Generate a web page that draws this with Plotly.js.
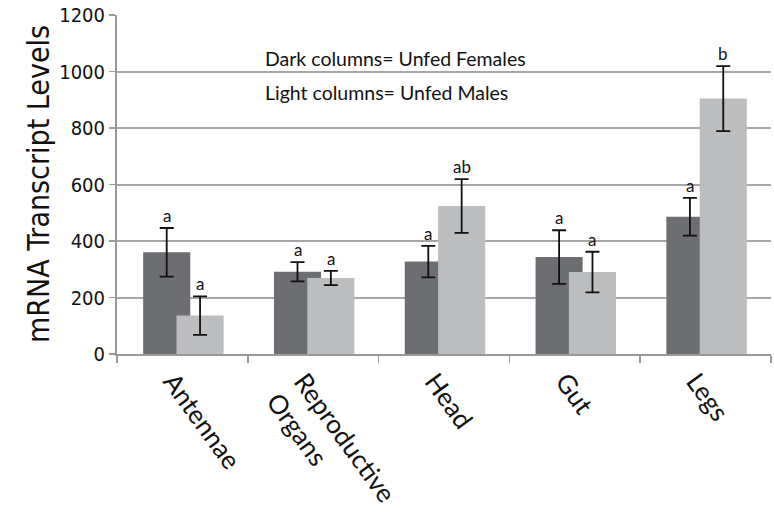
<!DOCTYPE html>
<html>
<head>
<meta charset="utf-8">
<script src="https://cdn.plot.ly/plotly-3.0.1.min.js"></script>
<style>
  html, body { margin: 0; padding: 0; background: #fff; }
  #chart { width: 774px; height: 519px; }
</style>
</head>
<body>
<div id="chart"></div>
<script>
const tissues = ['Antennae', 'Reproductive<br>Organs', 'Head', 'Gut', 'Legs']
const females = [360, 291, 327, 343, 486]
const femalesErr = [86, 34, 56, 95, 67]
const males = [136, 269, 524, 290, 904]
const malesErr = [68, 25, 95, 72, 115]
const femaleLetters = ['a', 'a', 'a', 'a', 'a']
const maleLetters = ['a', 'a', 'ab', 'a', 'b']

const narrow = '"DejaVu Sans Condensed", "Liberation Sans Narrow", sans-serif'
const body = 'Lato, "Open Sans", sans-serif'

const barW = 0.36
const darkOff = -0.30
const lightOff = -0.045

const errStyle = (arr) => ({
    type: 'data', array: arr, visible: true,
    color: '#111', thickness: 1.8, width: 7,
})

let data = [
    {
        type: 'bar', name: 'Unfed Females',
        x: tissues, y: females,
        width: barW, offset: darkOff,
        marker: { color: '#6d6e72' },
        error_y: errStyle(femalesErr),
    },
    {
        type: 'bar', name: 'Unfed Males',
        x: tissues, y: males,
        width: barW, offset: lightOff,
        marker: { color: '#bcbdbf' },
        error_y: errStyle(malesErr),
    },
]

// significance letters sit on top of each error bar
let annotations = []
tissues.forEach((t, i) => {
    annotations.push({
        x: i + darkOff + barW / 2, y: females[i] + femalesErr[i],
        xref: 'x', yref: 'y', text: femaleLetters[i], showarrow: false,
        yanchor: 'bottom', yshift: 0,
        font: { family: body, size: 17, color: '#111' },
    })
    annotations.push({
        x: i + lightOff + barW / 2, y: males[i] + malesErr[i],
        xref: 'x', yref: 'y', text: maleLetters[i], showarrow: false,
        yanchor: 'bottom', yshift: 0,
        font: { family: body, size: 17, color: '#111' },
    })
})

// legend text written in the plot
annotations.push({
    xref: 'paper', yref: 'paper', x: 0.223, y: 0.873, xanchor: 'left', yanchor: 'middle',
    text: 'Dark columns= Unfed Females', showarrow: false,
    font: { family: body, size: 19.5, color: '#111' },
})
annotations.push({
    xref: 'paper', yref: 'paper', x: 0.223, y: 0.77, xanchor: 'left', yanchor: 'middle',
    text: 'Light columns= Unfed Males', showarrow: false,
    font: { family: body, size: 19.5, color: '#111' },
})
// y title
annotations.push({
    xref: 'paper', yref: 'paper', x: -0.12, y: 0.5, xanchor: 'center', yanchor: 'middle',
    text: 'mRNA Transcript Levels', textangle: -90, showarrow: false,
    font: { family: narrow, size: 30, color: '#111' },
})

const layout = {
    width: 774, height: 519,
    margin: { l: 117, r: 3, t: 15, b: 165 },
    paper_bgcolor: '#fff', plot_bgcolor: '#fff',
    barmode: 'overlay',
    showlegend: false,
    xaxis: {
        type: 'category',
        tickangle: 54,
        ticks: 'outside', tickson: 'boundaries', ticklen: 7, tickcolor: '#999', tickwidth: 1.5,
        ticklabelshift: -10,
        showline: true, linecolor: '#999', linewidth: 2,
        showgrid: false,
        tickfont: { family: body, size: 26, color: '#111' },
        range: [-0.5, 4.5],
    },
    yaxis: {
        range: [0, 1200], dtick: 200,
        ticks: 'outside', ticklen: 6, tickcolor: '#999', tickwidth: 1.5,
        showline: true, linecolor: '#999', linewidth: 2,
        showgrid: true, gridcolor: '#a6a6a6', gridwidth: 2,
        zeroline: false,
        tickfont: { family: narrow, size: 20, color: '#111' },
    },
    annotations: annotations,
}

Plotly.newPlot('chart', data, layout, { staticPlot: true })
</script>
</body>
</html>
